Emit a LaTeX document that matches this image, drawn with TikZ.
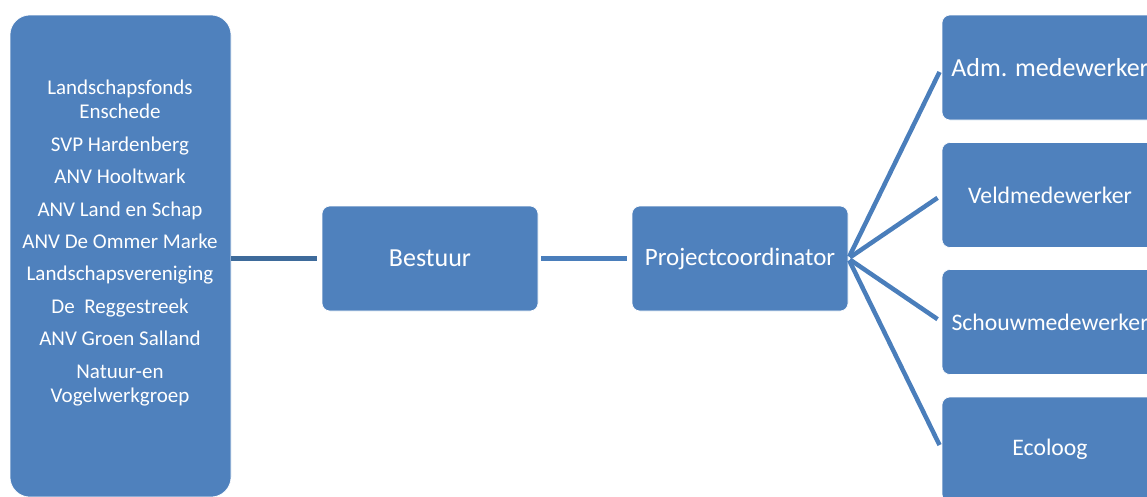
\documentclass[tikz,border=0pt]{standalone}
\usepackage{fontspec}
\setmainfont{Carlito}
\definecolor{boxblue}{HTML}{4F81BD}
\definecolor{lineblue}{HTML}{4A7EBB}
\definecolor{darkline}{HTML}{3E6B9B}
\begin{document}
\begin{tikzpicture}[x=1pt,y=-1pt,
  box/.style={fill=boxblue,draw=white,line width=0.6pt,rounded corners=8pt,inner sep=0pt,
    minimum width=216pt,minimum height=105pt,text=white,align=center},
  conn/.style={draw=lineblue,line width=4.5pt}]
\useasboundingbox (0,0) rectangle (1147,496);
\clip (0,0) rectangle (1147,496);
\node[box,rounded corners=20pt,minimum width=221pt,minimum height=482pt] (left) at (120.5,256) {};
\node[text=white,align=center,inner sep=0pt,font=\fontsize{21}{24}\selectfont] (members) at (120,243)
  {Landschapsfonds\\Enschede\\[8.4pt]SVP Hardenberg\\[8.4pt]ANV Hooltwark\\[8.4pt]ANV Land en Schap\\[8.4pt]ANV De Ommer Marke\\[8.4pt]Landschapsvereniging\\[8.4pt]De\ \ Reggestreek\\[8.4pt]ANV Groen Salland\\[8.4pt]Natuur-en\\Vogelwerkgroep};
\node[box,font=\fontsize{26}{30}\selectfont] (bestuur) at (430,258.5) {Bestuur};
\node[box,font=\fontsize{25}{30}\selectfont] (pc) at (740,258.5) {Projectcoordinator};
\node[box,font=\fontsize{26}{30}\selectfont] (adm) at (1050,67.5) {Adm. medewerker};
\node[box,font=\fontsize{23.7}{28}\selectfont] (veld) at (1050,195) {Veldmedewerker};
\node[box,font=\fontsize{23.7}{28}\selectfont] (schouw) at (1050,322) {Schouwmedewerker};
\node[box,font=\fontsize{23.7}{28}\selectfont] (eco) at (1050,449.5) {Ecoloog};
\draw[conn,draw=darkline,shorten >=5pt] (left.east |- bestuur.west) -- (bestuur.west);
\draw[conn,shorten <=3pt,shorten >=5pt] (bestuur.east) -- (pc.west);
\foreach \t in {adm,veld,schouw,eco}
  \draw[conn,shorten <=2pt,shorten >=5pt] (pc.east) -- (\t.west);
\end{tikzpicture}
\end{document}
